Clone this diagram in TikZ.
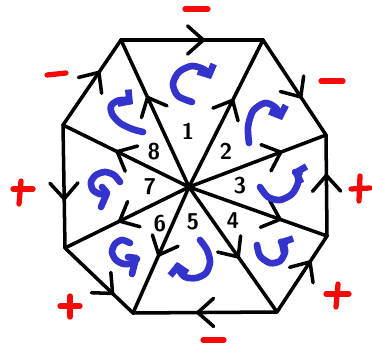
\documentclass[tikz,border=0pt]{standalone}
\usetikzlibrary{arrows.meta,decorations.markings}
\definecolor{penblue}{RGB}{52,52,204}
\definecolor{penred}{RGB}{245,10,10}
\tikzset{
  edge/.style={line width=2pt,line cap=round,line join=round,black},
  chev/.style={postaction={decorate},decoration={markings,
    mark=at position #1 with {\draw[line width=2pt,line cap=round,line join=round] (-9pt,8pt) -- (0,0) -- (-9pt,-8pt);}}},
  rot/.style={penblue,line width=3.8pt,line cap=round,line join=round},
  rothead/.style={rot,-{Straight Barb[length=4.5pt,width=10pt]}},
  sign/.style={penred,line width=3pt,line cap=round},
  num/.style={font=\sffamily\bfseries\fontsize{13}{13}\selectfont,inner sep=0pt}
}
\begin{document}
\begin{tikzpicture}[x=0.02cm,y=-0.02cm]
\useasboundingbox[fill=white] (0,0) rectangle (372,348);
% vertices
\coordinate (C) at (189,187);
\coordinate (V1) at (121,40);
\coordinate (V2) at (263,40);
\coordinate (V3) at (326,135);
\coordinate (V4) at (327,236);
\coordinate (V5) at (277,312);
\coordinate (V6) at (133,313);
\coordinate (V7) at (65,248);
\coordinate (V8) at (63,125);
% octagon edges
\draw[edge,chev=0.58] (V1) -- (V2);
\draw[edge,chev=0.60] (V2) -- (V3);
\draw[edge,chev=0.60] (V4) -- (V3);
\draw[edge,chev=0.66] (V5) -- (V4);
\draw[edge,chev=0.55] (V5) -- (V6);
\draw[edge,chev=0.70] (V7) -- (V6);
\draw[edge,chev=0.60] (V8) -- (V7);
\draw[edge,chev=0.62] (V8) -- (V1);
% spokes
\draw[edge,chev=0.61] (C) -- (V1);
\draw[edge,chev=0.59] (C) -- (V2);
\draw[edge,chev=0.67] (C) -- (V3);
\draw[edge,chev=0.66] (C) -- (V4);
\draw[edge,chev=0.56] (C) -- (V5);
\draw[edge,chev=0.54] (C) -- (V6);
\draw[edge,chev=0.56] (C) -- (V7);
\draw[edge,chev=0.57] (C) -- (V8);
% numbers
\node[num] (n1) at (188,131) {1};
\node[num] (n2) at (226,151) {2};
\node[num] (n3) at (240,186) {3};
\node[num] (n4) at (233,221) {4};
\node[num] (n5) at (193,222) {5};
\node[num] (n6) at (160,224) {6};
\node[num] (n7) at (150,187) {7};
\node[num] (n8) at (154,152) {8};
% blue rotation arrows
\draw[rothead] plot[smooth] coordinates {(192,102) (178,96) (173,84) (179,72) (192,66) (205,70) (211,79)};
\draw[rothead] plot[smooth] coordinates {(249,143) (248,127) (253,111) (265,103) (276,108) (282,120)};
\draw[rothead] plot[smooth] coordinates {(260,187) (268,197) (280,200) (292,194) (298,183) (297,174) (292,171)};
\draw[rothead] plot[smooth] coordinates {(257,245) (260,256) (270,263) (280,261) (285,252) (283,244) (278,240)};
\draw[rothead] plot[smooth] coordinates {(200,240) (207,250) (210,262) (206,273) (196,278) (185,277) (179,270) (177,262)};
\draw[rot] plot[smooth] coordinates {(130,243) (122,240) (115,244) (112,252) (116,260) (124,264) (132,263) (137,259)};
\draw[rot] (128,257) -- (136,258) -- (132,274);
\draw[rot] plot[smooth] coordinates {(120,182) (114,175) (105,172) (96,175) (91,182) (93,190) (100,194) (107,193)};
\draw[rot] (102,187) -- (107,193) -- (101,207);
\draw[rothead] plot[smooth] coordinates {(143,132) (132,129) (120,123) (112,114) (111,106) (117,101) (126,100) (133,104)};
% red signs
\draw[sign] (185,9) -- (208,9);
\draw[sign] (47,75) -- (66,73);
\draw[sign] (321,81) -- (343,81);
\draw[sign] (203,340) -- (224,340);
\draw[sign] (13,189) -- (33,189);
\draw[sign] (21,181) -- (19,204);
\draw[sign] (60,306) -- (80,306);
\draw[sign] (70,296) -- (70,317);
\draw[sign] (351,189) -- (370,188);
\draw[sign] (360,176) -- (359,201);
\draw[sign] (326,294) -- (349,294);
\draw[sign] (338,284) -- (336,307);
\end{tikzpicture}
\end{document}
